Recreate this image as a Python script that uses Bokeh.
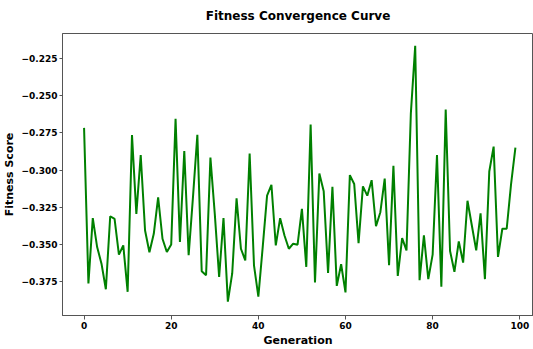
from bokeh.plotting import figure
from bokeh.models import Range1d, FixedTicker, CustomJSTickFormatter
from bokeh.embed import file_html
from bokeh.resources import INLINE

generation = list(range(100))
fitness = [
    -0.2717, -0.3761, -0.3323, -0.3517, -0.3628, -0.3800, -0.3310, -0.3328, -0.3568, -0.3506,
    -0.3817, -0.2766, -0.3294, -0.2899, -0.3406, -0.3552, -0.3428, -0.3183, -0.3461, -0.3550,
    -0.3499, -0.2657, -0.3483, -0.2872, -0.3572, -0.3180, -0.2763, -0.3679, -0.3706, -0.2917,
    -0.3294, -0.3717, -0.3323, -0.3883, -0.3694, -0.3190, -0.3528, -0.3606, -0.2890, -0.3639,
    -0.3850, -0.3517, -0.3172, -0.3099, -0.3506, -0.3323, -0.3439, -0.3528, -0.3494, -0.3501,
    -0.3261, -0.3650, -0.2694, -0.3755, -0.3023, -0.3143, -0.3690, -0.3112, -0.3777, -0.3632,
    -0.3821, -0.3034, -0.3094, -0.3490, -0.3110, -0.3172, -0.3068, -0.3377, -0.3283, -0.3057,
    -0.3639, -0.2972, -0.3710, -0.3457, -0.3539, -0.2620, -0.2166, -0.3739, -0.3439, -0.3732,
    -0.3568, -0.2899, -0.3783, -0.2594, -0.3543, -0.3683, -0.3479, -0.3621, -0.3206, -0.3372,
    -0.3539, -0.3290, -0.3732, -0.3010, -0.2843, -0.3583, -0.3394, -0.3394, -0.3094, -0.2850,
]
x_ticks = [0, 20, 40, 60, 80, 100]
y_ticks = [-0.375, -0.350, -0.325, -0.300, -0.275, -0.250, -0.225]
x_min, x_max = -4.95, 103.15
y_min, y_max = -0.3976, -0.2084

FONT = "DejaVu Sans"

p = figure(frame_width=471, frame_height=282, output_backend="svg", toolbar_location=None,
           x_range=Range1d(x_min, x_max), y_range=Range1d(y_min, y_max),
           title="Fitness Convergence Curve")
p.min_border_left = 0
p.min_border_right = 0
p.min_border_top = 0
p.min_border_bottom = 0

p.title.align = "center"
p.title.vertical_align = "top"
p.title.text_font = FONT
p.title.text_font_size = "12px"
p.title.text_font_style = "bold"
p.title.text_color = "black"
p.title.offset = 0
p.title.standoff = 17

p.line(generation, fitness, line_color="#008000", line_width=2)

p.xgrid.visible = False
p.ygrid.visible = False
p.outline_line_color = "#555555"
p.outline_line_width = 1
p.background_fill_color = "white"
p.border_fill_color = "white"

for ax in (p.xaxis[0], p.yaxis[0]):
    ax.axis_line_color = "#555555"
    ax.major_tick_line_color = "#555555"
    ax.minor_tick_line_color = None
    ax.major_tick_out = 4
    ax.major_tick_in = 0
    ax.major_label_text_font = FONT
    ax.major_label_text_font_size = "9px"
    ax.major_label_text_font_style = "bold"
    ax.major_label_text_color = "black"
    ax.axis_label_text_font = FONT
    ax.axis_label_text_font_size = "11px"
    ax.axis_label_text_font_style = "bold"
    ax.axis_label_text_color = "black"
    ax.major_label_standoff = 2
    ax.axis_label_standoff = 2

p.yaxis[0].major_tick_out = 3

p.xaxis[0].ticker = FixedTicker(ticks=x_ticks)
p.yaxis[0].ticker = FixedTicker(ticks=y_ticks)
p.xaxis[0].axis_label = "Generation"
p.yaxis[0].axis_label = "Fitness Score"
p.yaxis[0].formatter = CustomJSTickFormatter(
    code="return (tick < 0 ? '\\u2212' : '') + Math.abs(tick).toFixed(3);")
p.xaxis[0].formatter = CustomJSTickFormatter(code="return tick.toFixed(0);")

open("out.html", "w").write(file_html(p, INLINE))
